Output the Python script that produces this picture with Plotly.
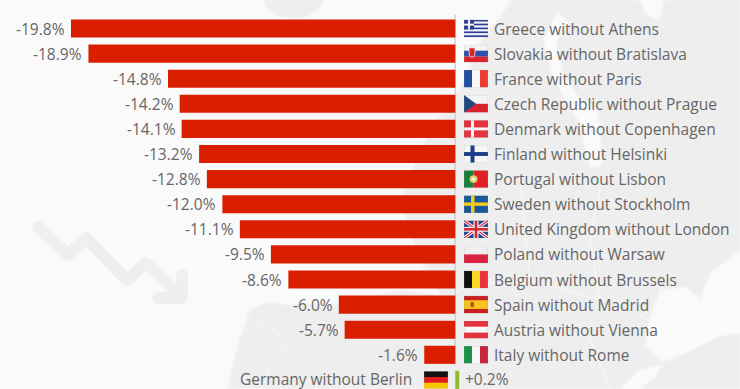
import base64
import plotly.graph_objects as go

places = ["Greece without Athens", "Slovakia without Bratislava", "France without Paris",
          "Czech Republic without Prague", "Denmark without Copenhagen", "Finland without Helsinki",
          "Portugal without Lisbon", "Sweden without Stockholm", "United Kingdom without London",
          "Poland without Warsaw", "Belgium without Brussels", "Spain without Madrid",
          "Austria without Vienna", "Italy without Rome", "Germany without Berlin"]
values = [-19.8, -18.9, -14.8, -14.2, -14.1, -13.2, -12.8, -12.0, -11.1, -9.5, -8.6, -6.0, -5.7, -1.6, 0.2]
value_labels = ["-19.8%", "-18.9%", "-14.8%", "-14.2%", "-14.1%", "-13.2%", "-12.8%", "-12.0%",
                "-11.1%", "-9.5%", "-8.6%", "-6.0%", "-5.7%", "-1.6%", "+0.2%"]
flag_keys = ["gr", "sk", "fr", "cz", "dk", "fi", "pt", "se", "uk", "pl", "be", "es", "at", "it", "de"]

W, H = 740, 389
X0, PX_PER_UNIT = 455.3, 19.41
Y0, ROW = 28.5, 25.1
TEXT = "#666666"
FONT = "Open Sans"


def rects(*items):
    return "".join(f'<rect x="{x}" y="{y}" width="{w}" height="{h}" fill="{c}"/>' for x, y, w, h, c in items)


def hstripes(*cols):
    h = 18 / len(cols)
    return rects(*[(0, i * h, 24, h + 0.05, c) for i, c in enumerate(cols)])


def vstripes(*cols):
    w = 24 / len(cols)
    return rects(*[(i * w, 0, w + 0.05, 18, c) for i, c in enumerate(cols)])


FLAGS = {
    "gr": rects(*[(0, i * 2, 24, 2, "#2a3f9d" if i % 2 == 0 else "#f6f6f6") for i in range(9)],
                (0, 0, 10, 10, "#2a3f9d"), (4, 0, 2, 10, "#f6f6f6"), (0, 4, 10, 2, "#f6f6f6")),
    "sk": hstripes("#f4f4f4", "#2b52a8", "#d9262c")
          + '<path d="M5 3h6v6q0 3-3 4q-3-1-3-4z" fill="#d9262c" stroke="#f4f4f4" stroke-width=".8"/>',
    "fr": vstripes("#234ea1", "#f7f7f7", "#ee3c32"),
    "cz": hstripes("#f4f4f4", "#d8232f") + '<path d="M0 0L12 9L0 18z" fill="#20477f"/>',
    "dk": rects((0, 0, 24, 18, "#e5323f"), (7, 0, 3, 18, "#f7f7f7"), (0, 7.5, 24, 3, "#f7f7f7")),
    "fi": rects((0, 0, 24, 18, "#f7f7f7"), (6.5, 0, 4, 18, "#1c3f86"), (0, 7, 24, 4, "#1c3f86")),
    "pt": rects((0, 0, 9.5, 18, "#1a7d3c"), (9.5, 0, 14.5, 18, "#e01f26"))
          + '<circle cx="9.5" cy="9" r="4" fill="#e6c75a"/><circle cx="9.5" cy="9" r="2" fill="#f4f4f4"/>',
    "se": rects((0, 0, 24, 18, "#17599a"), (7, 0, 3.5, 18, "#f4cb1a"), (0, 7.2, 24, 3.5, "#f4cb1a")),
    "uk": rects((0, 0, 24, 18, "#27408f"))
          + '<path d="M0 0L24 18M24 0L0 18" stroke="#f5f5f5" stroke-width="3.4"/>'
          + '<path d="M0 0L24 18M24 0L0 18" stroke="#d8232f" stroke-width="1.1"/>'
          + rects((9.5, 0, 5, 18, "#f5f5f5"), (0, 6.5, 24, 5, "#f5f5f5"), (10.7, 0, 2.6, 18, "#d8232f"), (0, 7.7, 24, 2.6, "#d8232f")),
    "pl": hstripes("#efefef", "#d9223f"),
    "be": vstripes("#111111", "#f7d728", "#ee3340"),
    "es": rects((0, 0, 24, 18, "#f6c21c"), (0, 0, 24, 4.5, "#c9201f"), (0, 13.5, 24, 4.5, "#c9201f"), (6.5, 6.5, 3.5, 5, "#b0562a")),
    "at": hstripes("#e5323f", "#f7f7f7", "#e5323f"),
    "it": vstripes("#1d9146", "#f7f7f7", "#c4283a"),
    "de": hstripes("#111111", "#dd1c1c", "#f6c400"),
}


def uri(svg):
    return "data:image/svg+xml;base64," + base64.b64encode(svg.encode()).decode()


def flag_uri(key):
    return uri('<svg xmlns="http://www.w3.org/2000/svg" width="24" height="18" viewBox="0 0 24 18" preserveAspectRatio="none">'
               + FLAGS[key] + '<rect x=".2" y=".2" width="23.6" height="17.6" fill="none" stroke="#9a9a9a" stroke-opacity=".35" stroke-width=".5"/></svg>')


LAND = "#eeeeee"
SEA = "#fafafa"
backdrop = f'''<svg xmlns="http://www.w3.org/2000/svg" width="{W}" height="{H}" viewBox="0 0 {W} {H}">
<defs><filter id="b"><feGaussianBlur stdDeviation="1"/></filter></defs>
<rect width="{W}" height="{H}" fill="{SEA}"/>
<g filter="url(#b)">
<path fill="{LAND}" d="M262 0Q268 12 277 16L300 19Q318 14 325 0Z"/>
<path fill="{LAND}" d="M512 0L500 16L480 43L462 84L430 130L400 200L420 260L440 295L400 290L330 305L290 305L267 302L250 310L238 345L227 389L740 389L740 0Z"/>
<path fill="{SEA}" d="M557 13L570 22L556 42L562 70L577 95L598 110L602 165L590 168L578 120L553 78L543 40Z"/>
<path fill="{SEA}" d="M640 0L645 14L660 20L664 0Z"/>
<path fill="{SEA}" d="M660 290L687 287L700 300L710 273L740 250L740 333L717 337L693 350L663 362L645 345L650 317Z"/>
<path fill="{SEA}" d="M663 364L640 370L620 389L640 389L655 378Z"/>
</g>
<path fill="none" stroke="#fafafa" stroke-width=".8" d="M250 322L275 330L285 345L268 370L262 389M440 300L470 285L530 280L600 300M600 190L590 240L600 300M520 180L530 280M640 315L680 340M560 300L590 340L610 389"/>
<path fill="none" stroke="#efefef" stroke-width="12" stroke-linecap="round" stroke-linejoin="round" d="M38 227L68 255L86 238L127 280L146 263L182 297M182 275V298H158"/>
</svg>'''

n = len(places)
y_pos = list(range(n))
fig = go.Figure(go.Bar(
    x=values, y=y_pos, orientation="h", width=0.72,
    marker=dict(color=["#da1e00" if v < 0 else "#8cbb2c" for v in values], line_width=0),
    hoverinfo="skip",
))

annotations, images = [], []
images.append(dict(source=uri(backdrop), xref="paper", yref="paper", x=0, y=1, sizex=1, sizey=1,
                   xanchor="left", yanchor="top", sizing="stretch", layer="below"))
for i, (place, v, lab, key) in enumerate(zip(places, values, value_labels, flag_keys)):
    font = dict(family=FONT, size=15.5, color=TEXT)
    common = dict(y=i, yref="y", xref="x", showarrow=False, font=font, yanchor="middle", borderpad=0)
    if v < 0:
        annotations.append(dict(x=v, text=lab, xanchor="right", xshift=-5, **common))
        annotations.append(dict(x=0, text=place, xanchor="left", xshift=37.5, **common))
        flag_x = 8.7 / PX_PER_UNIT
    else:
        annotations.append(dict(x=0, text=lab, xanchor="left", xshift=8.5, yshift=1, **common))
        annotations.append(dict(x=0, text=place, xanchor="right", xshift=-42, yshift=1, **common))
        flag_x = -31.3 / PX_PER_UNIT
    images.append(dict(source=flag_uri(key), xref="x", yref="y", x=flag_x, y=i,
                       sizex=24 / PX_PER_UNIT, sizey=17.5 / ROW, xanchor="left", yanchor="middle",
                       sizing="stretch", layer="above"))

fig.update_layout(
    width=W, height=H, margin=dict(l=0, r=0, t=0, b=0), showlegend=False,
    paper_bgcolor="#fafafa", plot_bgcolor="rgba(0,0,0,0)",
    bargap=0.28, annotations=annotations, images=images,
    xaxis=dict(range=[-X0 / PX_PER_UNIT, (W - X0) / PX_PER_UNIT], visible=False, fixedrange=True),
    yaxis=dict(range=[(H - Y0) / ROW, -Y0 / ROW], visible=False, fixedrange=True),
    shapes=[dict(type="line", xref="x", yref="y", x0=0, x1=0, y0=-0.55, y1=13.4,
                 line=dict(color="#cfd2da", width=1.5), layer="below")],
)
fig.write_html("out.html", config=dict(displayModeBar=False),
               post_script="document.body.style.margin='0';document.documentElement.style.overflow='hidden';")
